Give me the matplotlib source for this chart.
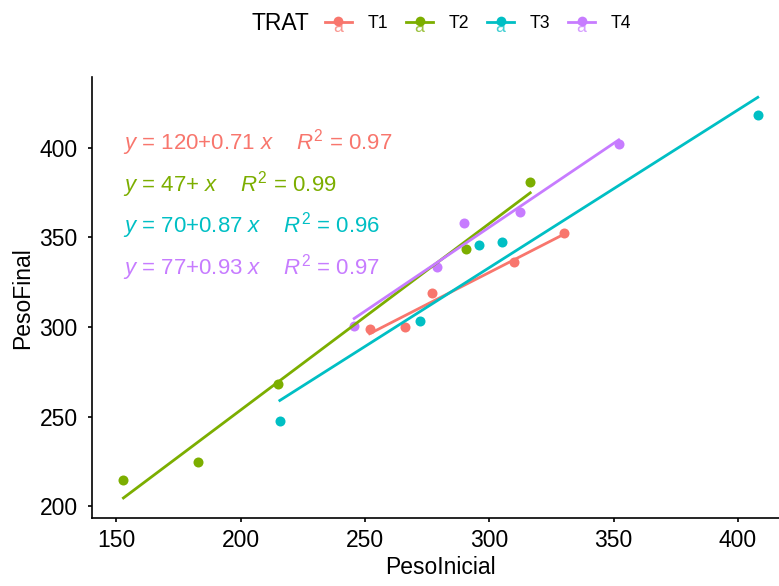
import numpy as np
import matplotlib
matplotlib.use("Agg")
import matplotlib.pyplot as plt
from matplotlib.lines import Line2D
from matplotlib.text import Text
from matplotlib.legend_handler import HandlerBase

plt.rcParams["font.family"] = ["Liberation Sans", "DejaVu Sans"]
plt.rcParams["mathtext.fontset"] = "custom"
plt.rcParams["mathtext.rm"] = "Liberation Sans"
plt.rcParams["mathtext.it"] = "Liberation Sans:italic"

groups = ["T1", "T2", "T3", "T4"]
colors = ["#F8766D", "#7CAE00", "#00BFC4", "#C77CFF"]

peso_inicial = {
    "T1": [251.9, 266.0, 277.0, 309.8, 329.9],
    "T2": [152.9, 182.7, 214.9, 290.8, 316.5],
    "T3": [215.8, 272.0, 295.9, 305.0, 408.0],
    "T4": [245.7, 279.0, 289.7, 312.5, 352.1],
}
peso_final = {
    "T1": [298.7, 299.7, 318.8, 336.2, 352.2],
    "T2": [214.8, 224.8, 267.9, 343.6, 381.1],
    "T3": [247.7, 303.6, 345.7, 347.3, 418.3],
    "T4": [300.6, 333.4, 358.1, 364.0, 402.3],
}

# equation labels as printed on the panel
eq_intercept = ["120", "47", "70", "77"]
eq_slope = ["0.71", "", "0.87", "0.93"]
eq_r2 = ["0.97", "0.99", "0.96", "0.97"]

W, H = 779, 586
fig = plt.figure(figsize=(W / 100, H / 100), dpi=100)

# panel placement in pixels
left, right, top, bottom = 91.7, 789.5, 77.3, 518.0
ax = fig.add_axes([left / W, (H - bottom) / H, (right - left) / W, (bottom - top) / H])

fits = {}
for g, c in zip(groups, colors):
    x = np.array(peso_inicial[g])
    y = np.array(peso_final[g])
    ax.scatter(x, y, s=52, color=c, zorder=2, linewidths=0)
    slope, icpt = np.polyfit(x, y, 1)
    xs = np.linspace(x.min(), x.max(), 80)
    ax.plot(xs, icpt + slope * xs, color=c, lw=2.0, zorder=3)
    fits[g] = (x.min(), x.max(), icpt, slope)

# axis limits with 5% expansion over data and fitted lines
allx = np.concatenate([peso_inicial[g] for g in groups])
ally = np.concatenate([peso_final[g] for g in groups] +
                      [[f[2] + f[3] * f[0], f[2] + f[3] * f[1]] for f in fits.values()])
dx = allx.max() - allx.min()
dy = ally.max() - ally.min()
ax.set_xlim(allx.min() - 0.05 * dx, allx.max() + 0.05 * dx)
ax.set_ylim(ally.min() - 0.05 * dy, ally.max() + 0.05 * dy)

ax.set_xticks([150, 200, 250, 300, 350, 400])
ax.set_yticks([200, 250, 300, 350, 400])

for s in ["top", "right"]:
    ax.spines[s].set_visible(False)
for s in ["left", "bottom"]:
    ax.spines[s].set_linewidth(1.2)
    ax.spines[s].set_color("black")
ax.tick_params(axis="both", length=3.1, width=1.2, color="black",
               labelsize=16.5, labelcolor="black")
ax.tick_params(axis="x", pad=4.5)
ax.tick_params(axis="y", pad=7)

ax.set_xlabel("PesoInicial", fontsize=16.5, labelpad=3.2)
ax.set_ylabel("PesoFinal", fontsize=16.5, labelpad=4)

# regression equations
label_y = [0.8355, 0.7413, 0.6467, 0.552]
for i, c in enumerate(colors):
    sl = eq_slope[i]
    term = f"{sl} $x$" if sl else " $x$"
    txt = f"$y$ = {eq_intercept[i]}+{term}    $R^2$ = {eq_r2[i]}"
    ax.text(0.0453, label_y[i], txt, transform=ax.transAxes, color=c,
            fontsize=16, va="baseline", ha="left")


class KeyHandler(HandlerBase):
    def create_artists(self, legend, orig_handle, xdescent, ydescent,
                       width, height, fontsize, trans):
        c = orig_handle.get_color()
        cy = height / 2 - ydescent
        cx = width / 2 - xdescent
        line = Line2D([-xdescent, width - xdescent], [cy, cy], color=c, lw=2.0,
                      transform=trans)
        letter = Text(cx, cy - 3.5, "a", color=c, alpha=0.75, ha="center", va="center",
                      fontsize=fontsize, transform=trans)
        dot = Line2D([cx], [cy + 1], marker="o", ms=7, color=c, mec="none",
                     transform=trans)
        return [line, letter, dot]


handles = [Line2D([], [], color=c) for c in colors]
fig.legend(handles, groups, handler_map={Line2D: KeyHandler()}, ncol=4,
           loc="center left", bbox_to_anchor=(325 / W, 1 - 24 / H),
           frameon=False, fontsize=12.7, borderpad=0, borderaxespad=0,
           handlelength=1.53, handletextpad=0.9, columnspacing=1.0)
fig.text(251.7 / W, 1 - 23 / H, "TRAT", fontsize=16.5, ha="left", va="center")

fig.savefig("out.png", dpi=100)
